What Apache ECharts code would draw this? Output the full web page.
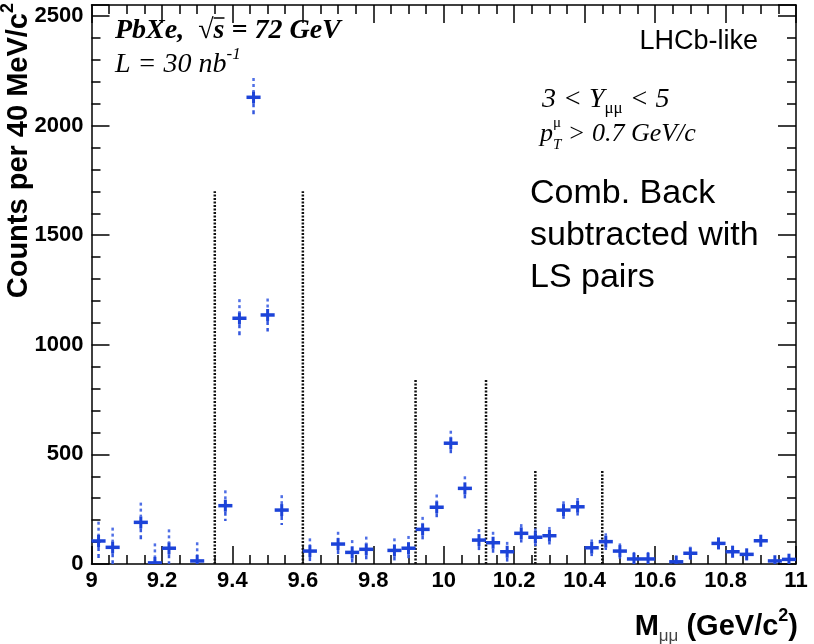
<!DOCTYPE html>
<html><head><meta charset="utf-8">
<script src="https://cdn.jsdelivr.net/npm/echarts@6/dist/echarts.min.js"></script>
<style>html,body{margin:0;padding:0;background:#fff}#c{width:814px;height:644px}</style>
</head><body><div id="c"></div>
<script>
// ---- data ----
const massCenters = [9.02, 9.06, 9.14, 9.18, 9.22, 9.30, 9.38, 9.42, 9.46, 9.50, 9.54, 9.62, 9.70, 9.74, 9.78, 9.86, 9.90, 9.94, 9.98, 10.02, 10.06, 10.10, 10.14, 10.18, 10.22, 10.26, 10.30, 10.34, 10.38, 10.42, 10.46, 10.50, 10.54, 10.58, 10.66, 10.70, 10.78, 10.82, 10.86, 10.90, 10.94, 10.98];
const counts = [105, 76, 190, 5, 72, 14, 266, 1121, 2129, 1136, 246, 59, 91, 53, 67, 62, 72, 158, 259, 551, 345, 109, 97, 56, 140, 122, 129, 246, 261, 74, 102, 59, 23, 23, 10, 49, 94, 56, 44, 106, 14, 21];
const errors = [88, 90, 90, 89, 86, 85, 70, 87, 88, 75, 68, 58, 56, 56, 58, 55, 56, 57, 58, 57, 55, 50, 50, 45, 42, 40, 40, 40, 40, 38, 38, 35, 32, 32, 30, 30, 28, 28, 28, 28, 26, 26];
const windowEdges = [9.35, 9.60, 9.92, 10.12, 10.26, 10.45];
const windowTops = [1700, 1700, 840, 840, 430, 430];
const binWidth = 0.04;
const xMin = 9, xMax = 11, xStep = 0.2;
const yMin = 0, yMax = 2550, yStep = 500;

const BLUE = '#1c43d8';
const SANS = '"Liberation Sans", Arial, sans-serif';
const SERIF = '"Liberation Serif", "Times New Roman", serif';

const chart = echarts.init(document.getElementById('c'), null, {renderer: 'canvas'});

function renderPoint(params, api) {
  const x = api.value(0), y = api.value(1), e = api.value(2);
  const c = api.coord([x, y]);
  const l = api.coord([x - binWidth / 2, y])[0];
  const r = api.coord([x + binWidth / 2, y])[0];
  const top = api.coord([x, y + e])[1];
  const bot = api.coord([x, Math.max(y - e, yMin)])[1];
  const core = 6;
  const kids = [];
  const st = Math.max(top, c[1] - core), sb = Math.min(bot, c[1] + core);
  if (top < st) kids.push({type: 'line', shape: {x1: c[0], y1: top, x2: c[0], y2: st}, style: {stroke: '#4f6fe6', lineWidth: 2.5, lineDash: [3, 3]}});
  if (bot > sb) kids.push({type: 'line', shape: {x1: c[0], y1: sb, x2: c[0], y2: bot}, style: {stroke: '#3558de', lineWidth: 2.5, lineDash: [4, 3]}});
  kids.push({type: 'line', shape: {x1: c[0], y1: st, x2: c[0], y2: sb}, style: {stroke: BLUE, lineWidth: 3}});
  kids.push({type: 'line', shape: {x1: l, y1: c[1], x2: r, y2: c[1]}, style: {stroke: BLUE, lineWidth: 3.5}});
  return {type: 'group', children: kids};
}
function renderWindow(params, api) {
  const p0 = api.coord([api.value(0), 0]);
  const p1 = api.coord([api.value(0), api.value(1)]);
  return {type: 'line', shape: {x1: p0[0], y1: p0[1], x2: p1[0], y2: p1[1]}, style: {stroke: '#111', lineWidth: 2.5, lineDash: [2, 1.5]}};
}

// text layout helper using canvas metrics
const mctx = document.createElement('canvas').getContext('2d');
function tw(t, f) { mctx.font = f; return mctx.measureText(t).width; }
function layout(segs, x0, y0, opts) {
  opts = opts || {};
  const th = opts.rotation || 0;
  const adv = [Math.cos(th), -Math.sin(th)], up = [-Math.sin(th), -Math.cos(th)];
  const widths = segs.map(s => s.stack ? Math.max(...s.stack.map(q => tw(q.t, q.f))) : tw(s.t, s.f));
  const total = widths.reduce((a, b) => a + b, 0);
  let off = opts.align === 'right' ? -total : (opts.align === 'center' ? -total / 2 : 0);
  const out = [];
  const put = (t, f, rise, fill, o) => {
    out.push({type: 'text', x: x0 + adv[0] * o + up[0] * rise, y: y0 + adv[1] * o + up[1] * rise, rotation: th, silent: true,
      style: {text: t, font: f, fill: fill || '#000', align: 'left', verticalAlign: 'middle'}});
  };
  segs.forEach((s, i) => {
    if (s.stack) s.stack.forEach(q => put(q.t, q.f, q.rise || 0, q.fill, off));
    else put(s.t, s.f, s.rise || 0, s.fill, off);
    if (s.overline) {
      const a = [x0 + adv[0] * off + up[0] * s.overline, y0 + adv[1] * off + up[1] * s.overline];
      const b = [a[0] + adv[0] * widths[i], a[1] + adv[1] * widths[i]];
      out.push({type: 'line', silent: true, shape: {x1: a[0], y1: a[1], x2: b[0], y2: b[1]}, style: {stroke: '#000', lineWidth: 1.5}});
    }
    off += widths[i];
  });
  return out;
}

const fBI = 'italic bold 28px ' + SERIF;
const fI = 'italic 28px ' + SERIF;
const fTB = 'bold 29px ' + SANS;
const graphics = [].concat(
  layout([{t: 'PbXe,  ', f: fBI}, {t: '√', f: 'bold 28px ' + SERIF}, {t: 's', f: fBI, overline: 13}, {t: ' = 72 GeV', f: fBI}], 115, 31),
  layout([{t: 'L = 30 nb', f: fI}, {t: '-1', f: 'italic 17px ' + SERIF, rise: 10}], 115, 65),
  layout([{t: 'LHCb-like', f: '27px ' + SANS}], 758, 42, {align: 'right'}),
  layout([{t: '3 < Y', f: fI}, {t: 'μμ', f: '17px ' + SERIF, rise: -9}, {t: ' < 5', f: fI}], 542, 100),
  layout([{t: 'p', f: 'italic 26px ' + SERIF}, {stack: [{t: 'μ', f: '15px ' + SERIF, rise: 11}, {t: 'T', f: 'italic 15px ' + SERIF, rise: -11}]}, {t: ' > 0.7 GeV/c', f: 'italic 26px ' + SERIF}], 540, 134),
  layout([{t: 'Comb. Back', f: '34px ' + SANS}], 530, 194),
  layout([{t: 'subtracted with', f: '34px ' + SANS}], 530, 236),
  layout([{t: 'LS pairs', f: '34px ' + SANS}], 530, 278),
  layout([{t: 'M', f: fTB}, {t: 'μμ', f: '17px ' + SANS, rise: -9, fill: '#444'}, {t: ' (GeV/c', f: fTB}, {t: '2', f: 'bold 18px ' + SANS, rise: 11}, {t: ')', f: fTB}], 798, 627, {align: 'right'}),
  layout([{t: 'Counts per 40 MeV/c', f: fTB}, {t: '2', f: 'bold 18px ' + SANS, rise: 11}], 19, 3, {align: 'right', rotation: Math.PI / 2})
);

const lineStyle = {color: '#000', width: 1.5};
function axis(extra) {
  return Object.assign({
    type: 'value', splitLine: {show: false},
    axisLine: {show: true, onZero: false, lineStyle: lineStyle},
    axisTick: {show: true, inside: true, length: 18, lineStyle: lineStyle},
    minorTick: {show: true, length: 9, lineStyle: lineStyle}
  }, extra);
}
const labelStyle = {fontFamily: SANS, fontSize: 22, fontWeight: 'bold', color: '#000'};

chart.setOption({
  animation: false,
  backgroundColor: '#fff',
  grid: {left: 91.5, right: 18, top: 5, bottom: 80, containLabel: false},
  xAxis: [
    axis({min: xMin, max: xMax, interval: xStep, minorTick: {show: true, splitNumber: 4, length: 9, lineStyle: lineStyle},
      axisLabel: Object.assign({margin: 6}, labelStyle)}),
    axis({position: 'top', min: xMin, max: xMax, interval: xStep, minorTick: {show: true, splitNumber: 4, length: 9, lineStyle: lineStyle},
      axisLabel: {show: false}})
  ],
  yAxis: [
    axis({min: yMin, max: yMax, interval: yStep, minorTick: {show: true, splitNumber: 5, length: 9, lineStyle: lineStyle},
      axisLabel: Object.assign({margin: 8, showMaxLabel: false, formatter: v => (v % yStep === 0 ? String(v) : '')}, labelStyle)}),
    axis({position: 'right', min: yMin, max: yMax, interval: yStep, minorTick: {show: true, splitNumber: 5, length: 9, lineStyle: lineStyle},
      axisLabel: {show: false}})
  ],
  series: [
    {type: 'custom', name: 'windows', renderItem: renderWindow, data: windowEdges.map((x, i) => [x, windowTops[i]]), encode: {x: 0, y: 1}, silent: true},
    {type: 'custom', name: 'points', renderItem: renderPoint, data: massCenters.map((m, i) => [m, counts[i], errors[i]]), encode: {x: 0, y: 1}, clip: true, z: 3}
  ],
  graphic: graphics
});
</script></body></html>
